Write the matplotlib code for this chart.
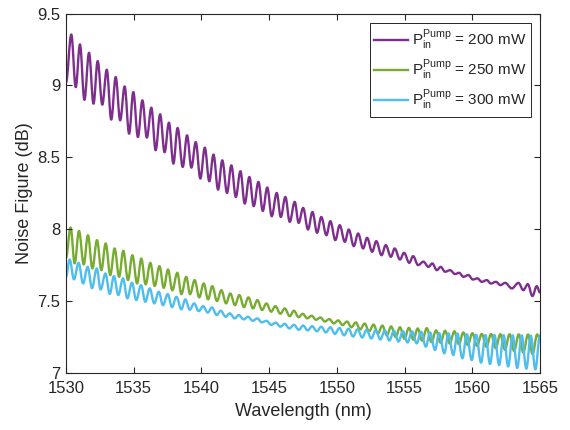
import matplotlib
matplotlib.use('Agg')
import matplotlib.pyplot as plt
from matplotlib.path import Path
from matplotlib.patches import PathPatch
from matplotlib.lines import Line2D
from matplotlib.ticker import FuncFormatter

plt.rcParams['font.family'] = ['Liberation Sans', 'DejaVu Sans']
plt.rcParams['mathtext.fontset'] = 'custom'
plt.rcParams['mathtext.rm'] = 'Liberation Sans'
plt.rcParams['mathtext.it'] = 'Liberation Sans:italic'
plt.rcParams['mathtext.bf'] = 'Liberation Sans:bold'

# ---------------- data (extrema) ----------------
labels = [r'P$_{\rm in}^{\rm Pump}$ = 200 mW',
          r'P$_{\rm in}^{\rm Pump}$ = 250 mW',
          r'P$_{\rm in}^{\rm Pump}$ = 300 mW']
colors = ['#7E2F8E', '#77AC30', '#4DBEEE']

p200_peak_nm = [1530.39, 1531.03, 1531.70, 1532.34, 1533.01, 1533.67, 1534.33, 1534.97, 1535.64, 1536.30,
                1536.95, 1537.60, 1538.24, 1538.94, 1539.58, 1540.25, 1540.89, 1541.54, 1542.21, 1542.88,
                1543.54, 1544.21, 1544.86, 1545.56, 1546.20, 1546.89, 1547.51, 1548.20, 1548.85, 1549.52,
                1550.21, 1550.88, 1551.57, 1552.23, 1552.91, 1553.61, 1554.27, 1554.96, 1555.63, 1556.39,
                1557.05, 1557.67, 1558.36, 1559.03, 1559.71, 1560.38, 1561.07, 1561.74, 1562.42, 1563.41,
                1564.10, 1564.76]
p200_peak_db = [9.354, 9.285, 9.227, 9.169, 9.109, 9.058, 8.993, 8.954, 8.896, 8.845,
                8.799, 8.741, 8.704, 8.653, 8.606, 8.567, 8.519, 8.479, 8.444, 8.403,
                8.363, 8.329, 8.290, 8.252, 8.224, 8.190, 8.148, 8.120, 8.085, 8.056,
                8.028, 7.998, 7.970, 7.940, 7.917, 7.889, 7.866, 7.836, 7.813, 7.774,
                7.762, 7.738, 7.715, 7.697, 7.681, 7.658, 7.646, 7.634, 7.627, 7.627,
                7.618, 7.604]
p200_trough_nm = [1530.00, 1530.72, 1531.36, 1532.03, 1532.68, 1533.34, 1534.00, 1534.66, 1535.31, 1535.97,
                  1536.62, 1537.28, 1537.93, 1538.62, 1539.26, 1539.92, 1540.58, 1541.23, 1541.89, 1542.54,
                  1543.20, 1543.86, 1544.53, 1545.19, 1545.86, 1546.52, 1547.18, 1547.87, 1548.54, 1549.23,
                  1549.89, 1550.59, 1551.25, 1551.94, 1552.61, 1553.30, 1553.99, 1554.66, 1555.35, 1556.00,
                  1556.76, 1557.38, 1557.99, 1558.73, 1559.34, 1560.04, 1560.70, 1561.37, 1562.08, 1562.92,
                  1563.77, 1564.44, 1565.00]
p200_trough_db = [9.020, 8.988, 8.900, 8.873, 8.866, 8.762, 8.757, 8.664, 8.641, 8.637,
                  8.549, 8.535, 8.456, 8.433, 8.428, 8.352, 8.333, 8.275, 8.252, 8.224,
                  8.178, 8.160, 8.127, 8.090, 8.085, 8.051, 8.044, 7.998, 7.975, 7.958,
                  7.924, 7.912, 7.882, 7.866, 7.843, 7.819, 7.808, 7.789, 7.766, 7.750,
                  7.738, 7.715, 7.704, 7.688, 7.669, 7.650, 7.634, 7.622, 7.611, 7.588,
                  7.576, 7.535, 7.560]

p250_peak_nm = [1530.34, 1530.96, 1531.62, 1532.29, 1532.93, 1533.59, 1534.23, 1534.90, 1535.56, 1536.23,
                1536.90, 1537.53, 1538.22, 1538.88, 1539.50, 1540.17, 1540.80, 1541.47, 1542.13, 1542.80,
                1543.47, 1544.13, 1544.80, 1545.46, 1546.15, 1546.83, 1547.48, 1548.14, 1548.79, 1549.44,
                1550.10, 1550.75, 1551.40, 1552.05, 1552.71, 1553.36, 1554.01, 1554.66, 1555.32, 1555.97,
                1556.64, 1557.33, 1557.99, 1558.68, 1559.34, 1560.01, 1560.70, 1561.39, 1562.07, 1562.75,
                1563.43, 1564.11, 1564.79]
p250_peak_db = [8.012, 7.988, 7.958, 7.924, 7.901, 7.866, 7.850, 7.819, 7.796, 7.766,
                7.743, 7.720, 7.697, 7.669, 7.646, 7.623, 7.604, 7.576, 7.553, 7.542,
                7.526, 7.507, 7.484, 7.465, 7.449, 7.433, 7.412, 7.398, 7.386, 7.375,
                7.366, 7.358, 7.352, 7.344, 7.337, 7.330, 7.324, 7.318, 7.314, 7.310,
                7.312, 7.296, 7.294, 7.290, 7.282, 7.277, 7.272, 7.271, 7.270, 7.270,
                7.269, 7.268, 7.268]
p250_trough_nm = [1530.00, 1530.64, 1531.31, 1531.95, 1532.61, 1533.27, 1533.92, 1534.58, 1535.25, 1535.88,
                  1536.55, 1537.22, 1537.85, 1538.52, 1539.16, 1539.84, 1540.49, 1541.15, 1541.82, 1542.48,
                  1543.14, 1543.81, 1544.48, 1545.15, 1545.83, 1546.52, 1547.18, 1547.81, 1548.46, 1549.11,
                  1549.77, 1550.42, 1551.07, 1551.72, 1552.38, 1553.03, 1553.69, 1554.34, 1554.99, 1555.65,
                  1556.30, 1556.98, 1557.66, 1558.33, 1559.01, 1559.67, 1560.35, 1561.04, 1561.73, 1562.41,
                  1563.09, 1563.77, 1564.45, 1565.00]
p250_trough_db = [7.800, 7.762, 7.755, 7.727, 7.715, 7.681, 7.669, 7.646, 7.623, 7.616,
                  7.605, 7.592, 7.575, 7.548, 7.548, 7.526, 7.512, 7.500, 7.484, 7.472,
                  7.458, 7.449, 7.438, 7.426, 7.412, 7.395, 7.388, 7.380, 7.370, 7.358,
                  7.345, 7.333, 7.318, 7.303, 7.290, 7.275, 7.262, 7.250, 7.238, 7.232,
                  7.225, 7.215, 7.210, 7.205, 7.200, 7.194, 7.188, 7.182, 7.172, 7.162,
                  7.152, 7.142, 7.132, 7.240]

p300_peak_nm = [1530.27, 1530.93, 1531.60, 1532.27, 1532.91, 1533.54, 1534.21, 1534.87, 1535.54, 1536.18,
                1536.85, 1537.51, 1538.15, 1538.81, 1539.46, 1540.12, 1540.77, 1541.42, 1542.09, 1542.75,
                1543.44, 1544.13, 1544.80, 1545.49, 1546.15, 1546.84, 1547.51, 1548.18, 1548.85, 1549.52,
                1550.19, 1550.86, 1551.53, 1552.20, 1552.87, 1553.54, 1554.21, 1554.88, 1555.55, 1556.22,
                1556.88, 1557.55, 1558.23, 1558.90, 1559.59, 1560.28, 1560.97, 1561.64, 1562.31, 1562.98,
                1563.65, 1564.32, 1564.99]
p300_peak_db = [7.789, 7.766, 7.738, 7.727, 7.692, 7.674, 7.658, 7.628, 7.611, 7.588,
                7.565, 7.549, 7.530, 7.512, 7.484, 7.465, 7.456, 7.433, 7.415, 7.403,
                7.391, 7.380, 7.363, 7.350, 7.342, 7.335, 7.330, 7.326, 7.322, 7.318,
                7.313, 7.308, 7.304, 7.300, 7.297, 7.295, 7.293, 7.291, 7.289, 7.287,
                7.282, 7.278, 7.276, 7.274, 7.270, 7.266, 7.264, 7.264, 7.263, 7.262,
                7.262, 7.260, 7.260]
p300_trough_nm = [1530.00, 1530.59, 1531.26, 1531.92, 1532.56, 1533.23, 1533.86, 1534.53, 1535.19, 1535.86,
                  1536.52, 1537.16, 1537.83, 1538.52, 1539.14, 1539.80, 1540.47, 1541.13, 1541.79, 1542.46,
                  1543.12, 1543.79, 1544.45, 1545.16, 1545.83, 1546.49, 1547.19, 1547.85, 1548.52, 1549.19,
                  1549.86, 1550.53, 1551.20, 1551.87, 1552.54, 1553.21, 1553.88, 1554.55, 1555.22, 1555.90,
                  1556.57, 1557.25, 1557.94, 1558.60, 1559.27, 1559.96, 1560.65, 1561.31, 1561.98, 1562.65,
                  1563.32, 1563.99, 1564.66]
p300_trough_db = [7.669, 7.651, 7.623, 7.590, 7.581, 7.550, 7.542, 7.519, 7.507, 7.495,
                  7.484, 7.472, 7.458, 7.443, 7.440, 7.430, 7.420, 7.403, 7.391, 7.380,
                  7.373, 7.363, 7.352, 7.335, 7.322, 7.310, 7.300, 7.296, 7.290, 7.282,
                  7.272, 7.262, 7.254, 7.247, 7.240, 7.233, 7.226, 7.219, 7.212, 7.206,
                  7.183, 7.160, 7.137, 7.125, 7.102, 7.090, 7.072, 7.063, 7.055, 7.045,
                  7.035, 7.030, 7.025]

x_ticks = [1530, 1535, 1540, 1545, 1550, 1555, 1560, 1565]
y_ticks = [7, 7.5, 8, 8.5, 9, 9.5]

series = [
    (p200_peak_nm, p200_peak_db, p200_trough_nm, p200_trough_db),
    (p250_peak_nm, p250_peak_db, p250_trough_nm, p250_trough_db),
    (p300_peak_nm, p300_peak_db, p300_trough_nm, p300_trough_db),
]


def smooth_path(nm, db, k=0.3634):
    """Cubic Bezier through successive extrema with horizontal tangents."""
    verts = [(nm[0], db[0])]
    codes = [Path.MOVETO]
    for i in range(1, len(nm)):
        x0, y0, x1, y1 = nm[i - 1], db[i - 1], nm[i], db[i]
        d = x1 - x0
        verts += [(x0 + k * d, y0), (x1 - k * d, y1), (x1, y1)]
        codes += [Path.CURVE4] * 3
    return Path(verts, codes)


axcol = '#262626'
fig = plt.figure(figsize=(5.7, 4.3), dpi=100)
ax = fig.add_axes([66 / 570, 1 - 373 / 430, (540 - 66) / 570, (373 - 13.5) / 430])

handles = []
for (pk_nm, pk_db, tr_nm, tr_db), c, lab in zip(series, colors, labels):
    pts = sorted(zip(pk_nm + tr_nm, pk_db + tr_db))
    nm = [p[0] for p in pts]
    db = [p[1] for p in pts]
    patch = PathPatch(smooth_path(nm, db), facecolor='none', edgecolor=c, lw=1.7,
                      capstyle='round', joinstyle='round', transform=ax.transData)
    ax.add_patch(patch)
    handles.append(Line2D([], [], color=c, lw=1.7, label=lab))

ax.set_xlim(1530, 1565)
ax.set_ylim(7, 9.5)
ax.set_xticks(x_ticks)
ax.set_yticks(y_ticks)
ax.yaxis.set_major_formatter(FuncFormatter(lambda v, p: '%g' % v))
ax.xaxis.set_major_formatter(FuncFormatter(lambda v, p: '%g' % v))
ax.tick_params(direction='in', length=4, width=0.8, colors=axcol, labelsize=12,
               top=True, right=True, labelcolor=axcol)
ax.tick_params(axis='x', pad=6)
ax.tick_params(axis='y', pad=4)
for s in ax.spines.values():
    s.set_color(axcol)
    s.set_linewidth(0.8)
ax.set_xlabel('Wavelength (nm)', fontsize=13, color=axcol, labelpad=5)
ax.set_ylabel('Noise Figure (dB)', fontsize=13, color=axcol, labelpad=3)

leg = ax.legend(handles=handles, loc='upper right', fontsize=11, frameon=True,
                fancybox=False, edgecolor=axcol, framealpha=1, borderaxespad=0.6,
                handlelength=2.2, handletextpad=0.25, labelspacing=0.35, borderpad=0.3)
leg.get_frame().set_linewidth(0.7)
for t in leg.get_texts():
    t.set_color(axcol)

fig.savefig('out.png', dpi=100)
